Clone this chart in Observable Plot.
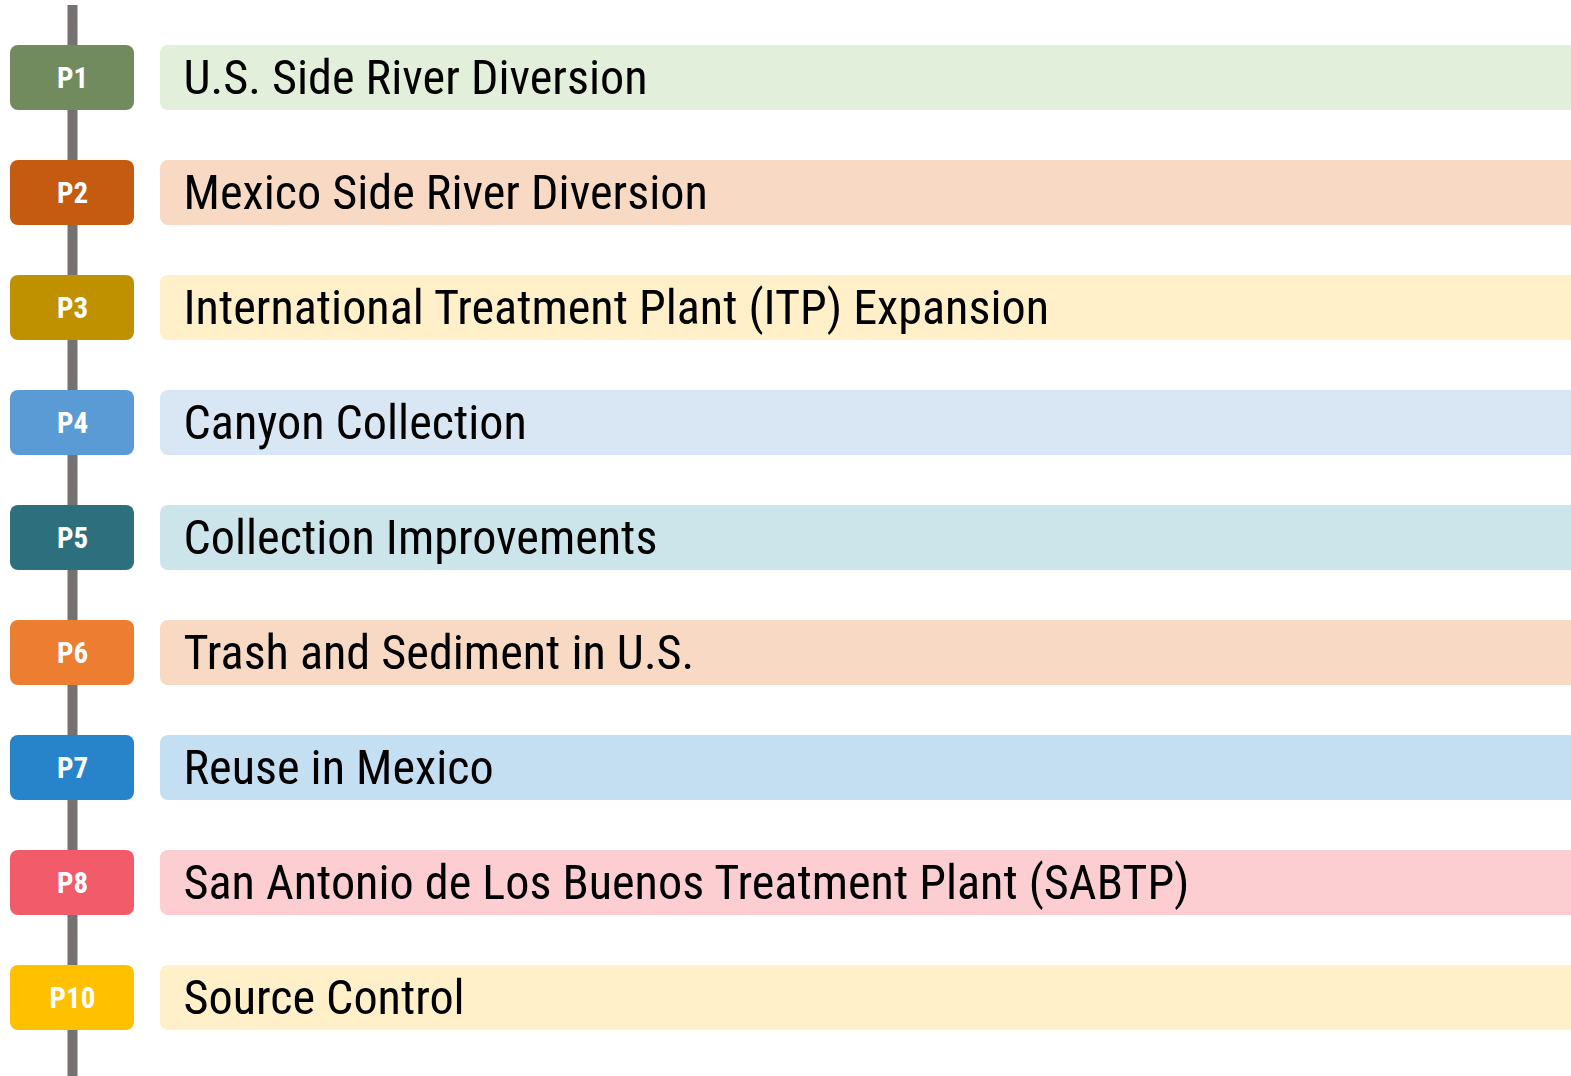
<!DOCTYPE html>
<html>
<head>
<meta charset="utf-8">
<script src="https://cdn.jsdelivr.net/npm/d3@7"></script>
<script src="https://cdn.jsdelivr.net/npm/@observablehq/plot@0.6"></script>
<style>
  html, body { margin: 0; padding: 0; background: #fff; }
  #chart svg { display: block; }
</style>
</head>
<body>
<div id="chart"></div>
<script>
const ids = ["P1", "P2", "P3", "P4", "P5", "P6", "P7", "P8", "P10"];
const labels = [
  "U.S. Side River Diversion",
  "Mexico Side River Diversion",
  "International Treatment Plant (ITP) Expansion",
  "Canyon Collection",
  "Collection Improvements",
  "Trash and Sediment in U.S.",
  "Reuse in Mexico",
  "San Antonio de Los Buenos Treatment Plant (SABTP)",
  "Source Control"
];
const badgeColors = ["#718b5e", "#c55a11", "#bf9000", "#5b9bd5", "#2e6f7d", "#ed7d31", "#2784cb", "#f25b69", "#ffc000"];
const barColors = ["#e2efda", "#f8dac4", "#fff0c9", "#d9e7f5", "#cce5eb", "#f8d9c3", "#c4def2", "#fccdd1", "#fff0c9"];

const rows = ids.map((id, i) => ({id, label: labels[i], badge: badgeColors[i], bar: barColors[i]}));

const W = 1571, H = 1076;
const step = 115.125, band = 65;
const fontCond = "'Roboto Condensed', 'Liberation Sans Narrow', 'DejaVu Sans Condensed', sans-serif";

const chart = Plot.plot({
  width: W,
  height: H,
  marginTop: 5,
  marginBottom: 0,
  marginLeft: 0,
  marginRight: 0,
  x: {type: "linear", domain: [0, W], range: [0, W], axis: null},
  y: {
    type: "band", domain: ids,
    range: [44 - (step - band) / 2, 44 - (step - band) / 2 + ids.length * step],
    paddingInner: (step - band) / step, paddingOuter: (step - band) / (2 * step), align: 0.5, axis: null
  },
  marks: [
    Plot.ruleX([72], {stroke: "#767171", strokeWidth: 10}),
    Plot.rect(rows, {x1: 10, x2: 134, y: "id", fill: "badge", rx: 8}),
    Plot.rect(rows, {x1: 160, x2: 1610, y: "id", fill: "bar", rx: 8, clip: "frame"}),
    Plot.text(rows, {x: 72, y: "id", text: "id", fill: "white", fontWeight: "bold", fontSize: 29, fontFamily: fontCond, dy: 1}),
    Plot.text(rows, {x: 183, y: "id", text: "label", fill: "#000", fontSize: 48.2, fontFamily: fontCond, textAnchor: "start", dy: 1})
  ]
});
document.getElementById("chart").appendChild(chart);
</script>
</body>
</html>
